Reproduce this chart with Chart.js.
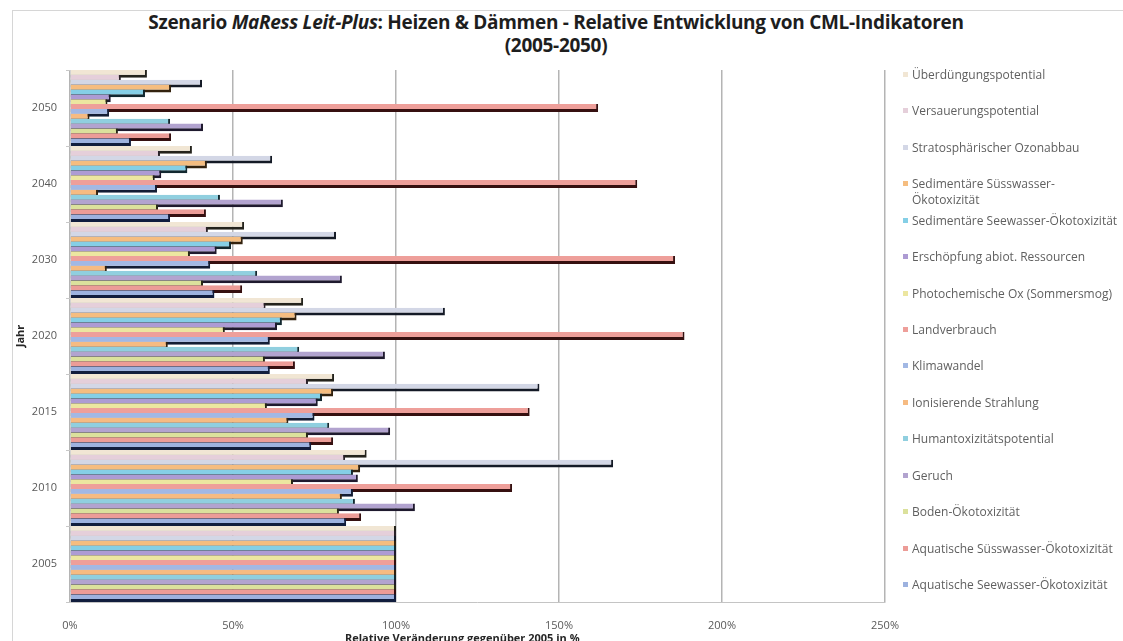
<!DOCTYPE html>
<html>
<head>
<meta charset="utf-8">
<script src="https://cdn.jsdelivr.net/npm/chart.js@4.4.1/dist/chart.umd.min.js"></script>
<style>
  html, body { margin: 0; padding: 0; background: #fff; }
  body { width: 1123px; height: 641px; overflow: hidden; position: relative; font-family: 'Open Sans', sans-serif; }
  #frame { position: absolute; left: 12px; top: 10px; width: 1140px; height: 660px; border: 1px solid #d6d6d6; }
  #title { position: absolute; left: 0; top: 11px; width: 1112px; text-align: center; font-weight: bold;
           font-size: 19px; line-height: 23px; color: #1e1e1e; letter-spacing: -0.3px; }
  #chart { position: absolute; left: 0; top: 0; }
  #legend { position: absolute; left: 903px; top: 0; font-size: 12px; color: #5f5f5f; }
  #legend .item { position: absolute; left: 0; white-space: nowrap; line-height: 16px; }
  #legend .sw { display: inline-block; width: 5px; height: 5px; margin-right: 4px; vertical-align: 2px; }
  #legend .cont { padding-left: 9px; }
  #xtitle { position: absolute; left: 345px; top: 630px; font-weight: bold; font-size: 11px; color: #262626; white-space: nowrap; }
</style>
</head>
<body>
<div id="frame"></div>
<div id="title">Szenario <i>MaRess Leit-Plus</i>: Heizen &amp; Dämmen - Relative Entwicklung von CML-Indikatoren<br>(2005-2050)</div>
<canvas id="chart" width="1123" height="641"></canvas>
<div id="legend"></div>
<div id="xtitle">Relative Veränderung gegenüber 2005 in %</div>

<script>
// Years, top to bottom
const years = ['2050', '2040', '2030', '2020', '2015', '2010', '2005'];

// X axis ticks (percent of 2005)
const xTicks = [0, 50, 100, 150, 200, 250];

// Indicator names, in the order they appear inside each year group (top to bottom)
const indicators = [
  'Überdüngungspotential',
  'Versauerungspotential',
  'Stratosphärischer Ozonabbau',
  ['Sedimentäre Süsswasser-', 'Ökotoxizität'],
  'Sedimentäre Seewasser-Ökotoxizität',
  'Erschöpfung abiot. Ressourcen',
  'Photochemische Ox (Sommersmog)',
  'Landverbrauch',
  'Klimawandel',
  'Ionisierende Strahlung',
  'Humantoxizitätspotential',
  'Geruch',
  'Boden-Ökotoxizität',
  'Aquatische Süsswasser-Ökotoxizität',
  'Aquatische Seewasser-Ökotoxizität'
];

// Relative development per indicator, in % of 2005 (2050 ... 2005)
const ueberduengung   = [23.6, 37.4, 53.4, 71.5, 81.0, 91.0, 100];
const versauerung     = [15.6, 27.6, 42.3, 60.0, 73.0, 84.4, 100];
const ozonabbau       = [40.5, 62.0, 81.6, 115.0, 144.0, 166.6, 100];
const sedSuesswasser  = [31.0, 42.0, 53.0, 69.5, 80.7, 89.0, 100];
const sedSeewasser    = [23.0, 36.0, 49.4, 65.0, 77.3, 86.8, 100];
const ressourcen      = [12.5, 28.0, 45.0, 63.5, 76.0, 88.3, 100];
const sommersmog      = [11.5, 26.0, 36.8, 47.5, 60.4, 68.4, 100];
const landverbrauch   = [162.0, 174.0, 185.6, 188.5, 141.0, 135.6, 100];
const klimawandel     = [12.0, 26.7, 43.0, 61.3, 75.0, 86.8, 100];
const strahlung       = [6.0, 8.6, 11.3, 30.0, 67.0, 83.4, 100];
const humantox        = [30.7, 46.0, 57.4, 70.3, 79.5, 87.4, 100];
const geruch          = [40.8, 65.3, 83.4, 96.6, 98.2, 105.8, 100];
const bodenTox        = [14.7, 27.0, 40.8, 59.8, 73.0, 82.5, 100];
const aqSuesswasser   = [31.0, 41.7, 52.8, 69.0, 80.7, 89.3, 100];
const aqSeewasser     = [18.7, 30.7, 44.3, 61.3, 74.0, 84.7, 100];

const seriesValues = [ueberduengung, versauerung, ozonabbau, sedSuesswasser, sedSeewasser,
  ressourcen, sommersmog, landverbrauch, klimawandel, strahlung, humantox, geruch,
  bodenTox, aqSuesswasser, aqSeewasser];

// Face colours and the darker edge colours of the bars
const faceColors = ['#f1e6d4', '#e5cfda', '#d3d7e6', '#f5bd80', '#85cfe6', '#ad9bd3', '#ece6a0',
  '#ee9f9a', '#a2b8e4', '#f6bb82', '#90cfdf', '#b2a3cf', '#dbe19c', '#ec9c97', '#9db2df'];
const edgeColors = ['#24231c', '#2a2229', '#141a26', '#33220e', '#12282f', '#1f1a2e', '#262614',
  '#361010', '#131d35', '#33220e', '#12282f', '#1f1a2e', '#262814', '#361010', '#111d3d'];

const FONT = 'Open Sans';

// Paint datasets top row first, so each lower bar overlaps the bottom edge of the one above it
const lowerRowsInFront = {
  id: 'lowerRowsInFront',
  beforeDatasetsDraw(chart) {
    const metas = chart.getSortedVisibleDatasetMetas();
    for (const meta of metas) {
      if (typeof chart._drawDataset === 'function') chart._drawDataset(meta);
      else meta.controller.draw();
    }
    return false;
  }
};

new Chart(document.getElementById('chart'), {
  type: 'bar',
  data: {
    labels: years,
    datasets: seriesValues.map((vals, i) => ({
      label: Array.isArray(indicators[i]) ? indicators[i].join('') : indicators[i],
      data: vals,
      backgroundColor: faceColors[i],
      borderColor: edgeColors[i],
      borderWidth: { top: 0, left: 0, right: 2, bottom: 3 },
      borderSkipped: false
    }))
  },
  options: {
    indexAxis: 'y',
    responsive: false,
    animation: false,
    devicePixelRatio: 1,
    layout: { padding: { top: 70, right: 238, bottom: 0, left: 0 } },
    datasets: { bar: { categoryPercentage: 0.96, barPercentage: 1.6 } },
    plugins: {
      legend: { display: false },
      title: { display: false },
      tooltip: { enabled: false }
    },
    scales: {
      x: {
        type: 'linear',
        min: xTicks[0],
        max: xTicks[xTicks.length - 1],
        afterBuildTicks(scale) { scale.ticks = xTicks.map(v => ({ value: v })); },
        ticks: { callback: v => v + '%', color: '#595959', font: { family: FONT, size: 11 }, padding: 17 },
        grid: { color: '#b4b4b4', lineWidth: 1.5, drawTicks: false },
        border: { display: true, color: '#c4c4c4', width: 1 },
        afterFit(scale) { scale.height = 39; }
      },
      y: {
        ticks: { color: '#595959', font: { family: FONT, size: 11 }, padding: 9 },
        grid: { drawOnChartArea: false, drawTicks: true, tickLength: 4, color: '#c8c8c8', offset: true },
        border: { display: true, color: '#d2d2d2' },
        title: { display: true, text: 'Jahr', color: '#262626', font: { family: FONT, size: 11, weight: 'bold' },
                 padding: { top: 14, bottom: 0 } },
        afterFit(scale) { scale.width = 70; }
      }
    }
  },
  plugins: [lowerRowsInFront]
});

// Legend on the right
const legend = document.getElementById('legend');
indicators.forEach((name, i) => {
  const item = document.createElement('div');
  item.className = 'item';
  item.style.top = (75 + 36.43 * i - 8) + 'px';
  const sw = document.createElement('span');
  sw.className = 'sw';
  sw.style.background = faceColors[i];
  item.appendChild(sw);
  const lines = Array.isArray(name) ? name : [name];
  item.appendChild(document.createTextNode(lines[0]));
  for (let k = 1; k < lines.length; k++) {
    const cont = document.createElement('div');
    cont.className = 'cont';
    cont.textContent = lines[k];
    item.appendChild(cont);
  }
  legend.appendChild(item);
});
</script>
</body>
</html>
